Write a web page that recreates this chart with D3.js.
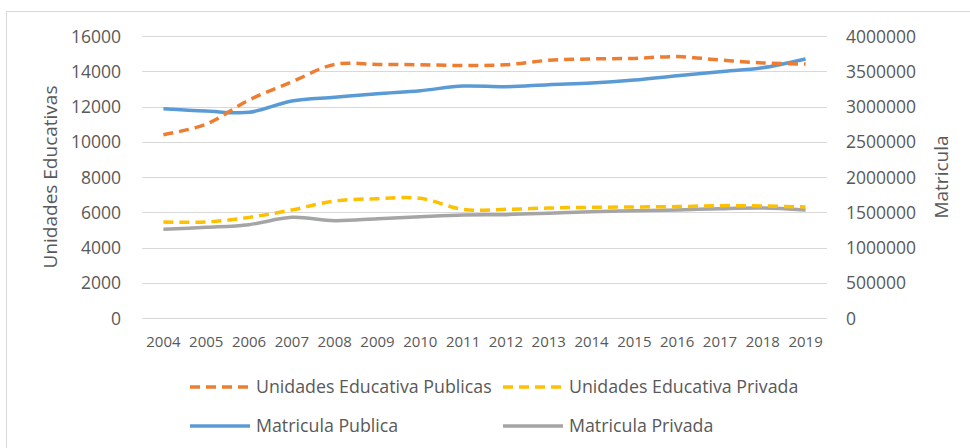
<!DOCTYPE html>
<html>
<head>
<meta charset="utf-8">
<script src="https://d3js.org/d3.v7.min.js"></script>
<style>
body { margin: 0; background: #fff; }
text { font-family: "Open Sans", sans-serif; fill: #595959; }
.grid line { stroke: #d9d9d9; stroke-width: 1px; shape-rendering: crispEdges; }
.grid path { stroke-width: 0; }
.axis path, .axis line { display: none; }
.line { fill: none; stroke-width: 3.5px; }
</style>
</head>
<body>
<svg id="chart"></svg>
<script>

// data
var years = ["2004","2005","2006","2007","2008","2009","2010","2011","2012","2013","2014","2015","2016","2017","2018","2019"];
var unidadesPublicas = [10400, 11000, 12370, 13400, 14390, 14390, 14370, 14320, 14370, 14620, 14700, 14730, 14830, 14640, 14470, 14410];
var unidadesPrivada = [5450, 5450, 5710, 6130, 6640, 6770, 6790, 6165, 6165, 6240, 6280, 6300, 6320, 6375, 6355, 6300];
var matriculaPublica = [2969000, 2936000, 2917000, 3078000, 3130000, 3182000, 3225000, 3290000, 3281000, 3310000, 3333000, 3376000, 3437000, 3494000, 3550000, 3674000];
var matriculaPrivada = [1258000, 1286000, 1324000, 1428000, 1381000, 1409000, 1437000, 1461000, 1466000, 1485000, 1508000, 1522000, 1532000, 1551000, 1560000, 1532000];
var leftTicks = [0, 2000, 4000, 6000, 8000, 10000, 12000, 14000, 16000];
var rightTicks = [0, 500000, 1000000, 1500000, 2000000, 2500000, 3000000, 3500000, 4000000];

var width = 970, height = 448;
var plotLeft = 142, plotRight = 827, plotTop = 36, plotBottom = 318;

var svg = d3.select("#chart")
    .attr("width", width)
    .attr("height", height);

// chart frame
svg.append("rect")
    .attr("x", 6.5).attr("y", 11.5)
    .attr("width", 1000).attr("height", 500)
    .style("fill", "none")
    .style("stroke", "#d9d9d9");

var x = d3.scaleBand().domain(years).range([plotLeft, plotRight]);
var yL = d3.scaleLinear().domain([0, 16000]).range([plotBottom, plotTop]);
var yR = d3.scaleLinear().domain([0, 4000000]).range([plotBottom, plotTop]);

// gridlines
svg.append("g")
    .attr("class", "grid")
    .attr("transform", "translate(" + plotLeft + ",0)")
    .call(d3.axisLeft(yL).tickValues(leftTicks).tickSize(-(plotRight - plotLeft)).tickFormat(""));

// left axis
svg.append("g")
    .attr("class", "axis")
    .attr("transform", "translate(" + (plotLeft - 21) + ",0)")
    .call(d3.axisLeft(yL).tickValues(leftTicks).tickSize(0).tickPadding(0).tickFormat(d3.format("d")))
    .selectAll("text")
    .style("font-size", "17.5px")
    .attr("dy", "0.35em");

// right axis
svg.append("g")
    .attr("class", "axis")
    .attr("transform", "translate(" + (plotRight + 19) + ",0)")
    .call(d3.axisRight(yR).tickValues(rightTicks).tickSize(0).tickPadding(0).tickFormat(d3.format("d")))
    .selectAll("text")
    .style("font-size", "17.5px")
    .attr("dy", "0.35em");

// x axis
svg.append("g")
    .attr("class", "axis")
    .attr("transform", "translate(0," + plotBottom + ")")
    .call(d3.axisBottom(x).tickSize(0).tickPadding(0))
    .selectAll("text")
    .style("font-size", "15px")
    .attr("y", 24)
    .attr("dy", "0.35em");

// axis titles
svg.append("text")
    .attr("transform", "translate(50," + ((plotTop + plotBottom) / 2) + ") rotate(-90)")
    .attr("text-anchor", "middle")
    .attr("dy", "0.35em")
    .style("font-size", "19px")
    .text("Unidades Educativas");

svg.append("text")
    .attr("transform", "translate(941," + ((plotTop + plotBottom) / 2) + ") rotate(-90)")
    .attr("text-anchor", "middle")
    .attr("dy", "0.35em")
    .style("font-size", "19px")
    .text("Matricula");

var series = [
    { name: "Unidades Educativa Publicas", values: unidadesPublicas, scale: yL, color: "#ED7D31", dash: "10,6" },
    { name: "Unidades Educativa Privada", values: unidadesPrivada, scale: yL, color: "#FFC000", dash: "10,6" },
    { name: "Matricula Publica", values: matriculaPublica, scale: yR, color: "#5B9BD5", dash: null },
    { name: "Matricula Privada", values: matriculaPrivada, scale: yR, color: "#A5A5A5", dash: null }
];

// draw order: matricula first, unidades on top
[series[3], series[2], series[1], series[0]].forEach(function(s) {
    var line = d3.line()
        .x(function(d, i) { return x(years[i]) + x.bandwidth() / 2; })
        .y(function(d) { return s.scale(d); })
        .curve(d3.curveCatmullRom.alpha(0.5));
    svg.append("path")
        .datum(s.values)
        .attr("class", "line")
        .attr("d", line)
        .style("stroke", s.color)
        .style("stroke-dasharray", s.dash);
});

// legend
var legendPos = [[190, 387], [503, 387], [190, 426], [503, 426]];
series.forEach(function(s, i) {
    var g = svg.append("g")
        .attr("transform", "translate(" + legendPos[i][0] + "," + legendPos[i][1] + ")");
    g.append("line")
        .attr("x1", 0).attr("x2", 60)
        .style("stroke", s.color)
        .style("stroke-width", "3.5px")
        .style("stroke-dasharray", s.dash);
    g.append("text")
        .attr("x", 66)
        .attr("dy", "0.35em")
        .style("font-size", "17.8px")
        .text(s.name);
});

</script>
</body>
</html>
